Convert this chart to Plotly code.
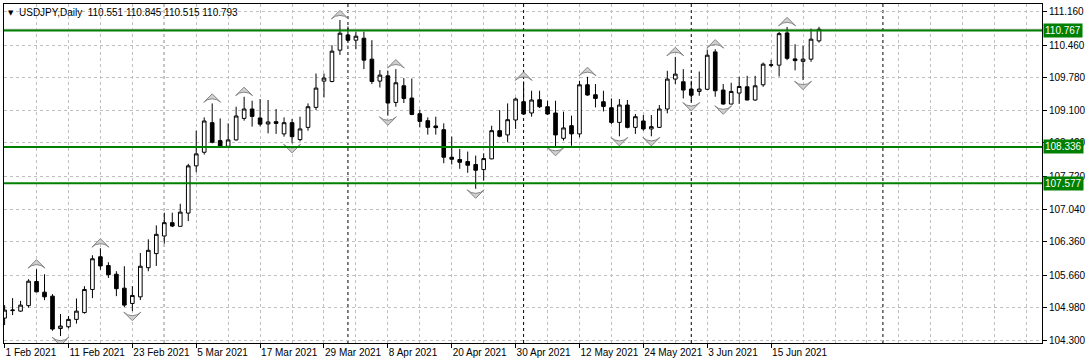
import plotly.graph_objects as go

# ---------------- data ----------------
tick_labels = ["1 Feb 2021", "11 Feb 2021", "23 Feb 2021", "5 Mar 2021", "17 Mar 2021",
               "29 Mar 2021", "8 Apr 2021", "20 Apr 2021", "30 Apr 2021", "12 May 2021",
               "24 May 2021", "3 Jun 2021", "15 Jun 2021"]

opens = [104.762, 104.918, 104.908, 105.022, 105.526, 105.304, 105.220, 104.544, 104.581, 104.735,
         104.877, 105.360, 106.043, 105.859, 105.678, 105.387, 105.068, 105.206, 105.814, 106.109,
         106.476, 106.755, 106.678, 106.955, 107.941, 108.225, 108.843, 108.468, 108.350, 108.483,
         108.932, 109.128, 108.941, 108.816, 108.864, 108.608, 108.843, 108.489, 108.745, 109.162,
         109.711, 109.703, 110.357, 110.675, 110.565, 110.606, 110.169, 109.711, 109.821, 109.266,
         109.613, 109.357, 109.030, 108.885, 108.774, 108.697, 108.121, 108.073, 108.031, 107.969,
         107.864, 108.087, 108.676, 108.587, 108.899, 109.280, 109.045, 109.322, 109.176, 109.045,
         108.516, 108.780, 108.608, 109.634, 109.426, 109.280, 109.155, 108.849, 109.211, 108.745,
         108.878, 108.712, 108.745, 109.128, 109.753, 109.697, 109.545, 109.495, 109.540, 110.321,
         109.524, 109.232, 109.461, 109.592, 109.316, 109.634, 110.040, 110.044, 110.717, 110.175,
         110.123, 110.169, 110.551]

highs = [105.033, 105.179, 105.122, 105.574, 105.782, 105.678, 105.262, 104.846, 104.804, 105.172,
         105.428, 106.074, 106.220, 105.928, 105.741, 105.845, 105.428, 106.122, 106.407, 106.698,
         106.963, 106.963, 107.150, 107.983, 108.676, 108.953, 109.245, 108.932, 108.828, 109.176,
         109.384, 109.301, 109.336, 109.316, 109.128, 108.953, 108.920, 108.968, 109.245, 109.869,
         109.869, 110.461, 110.987, 110.852, 110.744, 110.744, 110.565, 109.940, 109.926, 109.961,
         109.774, 109.765, 109.114, 108.953, 108.968, 108.828, 108.551, 108.295, 108.239, 108.156,
         108.204, 108.780, 109.107, 109.245, 109.370, 109.703, 109.509, 109.509, 109.301, 109.301,
         109.072, 108.989, 109.717, 109.801, 109.649, 109.509, 109.349, 109.336, 109.316, 109.024,
         109.003, 109.003, 109.211, 109.926, 110.217, 109.961, 109.717, 109.911, 110.369, 110.377,
         109.649, 109.676, 109.801, 109.821, 109.821, 110.098, 110.155, 110.738, 110.842, 110.481,
         110.446, 110.806, 110.845]

lows = [104.616, 104.825, 104.893, 104.981, 105.304, 105.137, 104.498, 104.387, 104.548, 104.648,
        104.856, 105.179, 105.772, 105.601, 105.220, 104.991, 104.908, 105.137, 105.741, 105.851,
        106.317, 106.663, 106.678, 106.788, 107.808, 108.177, 108.412, 108.329, 108.350, 108.468,
        108.885, 108.760, 108.766, 108.620, 108.608, 108.551, 108.412, 108.454, 108.676, 109.107,
        109.370, 109.686, 110.259, 110.540, 110.377, 109.961, 109.649, 109.578, 108.989, 109.176,
        109.253, 109.000, 108.745, 108.593, 108.593, 107.996, 107.969, 107.879, 107.796, 107.463,
        107.635, 108.080, 108.537, 108.433, 108.712, 109.010, 108.968, 109.149, 109.003, 108.350,
        108.468, 108.360, 108.537, 109.405, 109.162, 109.078, 108.816, 108.558, 108.724, 108.608,
        108.676, 108.558, 108.733, 109.037, 109.649, 109.349, 109.286, 109.405, 109.530, 109.384,
        109.218, 109.225, 109.235, 109.311, 109.301, 109.592, 109.998, 109.807, 110.148, 109.936,
        109.732, 110.113, 110.515]

closes = [104.929, 104.929, 105.033, 105.533, 105.310, 105.206, 104.533, 104.596, 104.735, 104.908,
          105.360, 106.001, 105.851, 105.668, 105.376, 105.033, 105.235, 105.845, 106.178, 106.511,
          106.755, 106.684, 106.975, 107.941, 108.191, 108.878, 108.433, 108.350, 108.483, 108.982,
          109.128, 108.974, 108.812, 108.858, 108.828, 108.843, 108.551, 108.712, 109.176, 109.565,
          109.774, 110.336, 110.711, 110.565, 110.648, 110.148, 109.703, 109.836, 109.253, 109.676,
          109.349, 109.016, 108.870, 108.745, 108.739, 108.121, 108.079, 108.016, 107.954, 107.850,
          108.093, 108.676, 108.558, 108.905, 109.336, 109.024, 109.316, 109.176, 109.024, 108.587,
          108.733, 108.608, 109.634, 109.420, 109.349, 109.182, 108.849, 109.211, 108.745, 108.968,
          108.712, 108.760, 109.128, 109.753, 109.857, 109.524, 109.416, 109.545, 110.252, 109.509,
          109.232, 109.495, 109.599, 109.316, 109.613, 110.065, 110.051, 110.702, 110.186, 110.138,
          110.169, 110.586, 110.793]

fractal_up = [4, 12, 26, 30, 42, 49, 65, 73, 84, 89, 98]
fractal_down = [7, 16, 36, 48, 59, 69, 77, 81, 86, 90, 100]

level_lines = [110.767, 108.336, 107.577]
month_starts = [20, 43, 65, 86, 110]
y_ticks = [104.30, 104.98, 105.66, 106.36, 107.04, 107.72, 108.42, 109.10, 109.78, 110.46, 111.16]

# ---------------- figure ----------------
n = len(opens)
xs = list(range(n))
FONT = "Tahoma, 'Liberation Sans', Arial, sans-serif"
GRID = "#c0c0c0"
GREEN = "#008000"

fig = go.Figure()

fig.add_trace(go.Candlestick(
    x=xs, open=opens, high=highs, low=lows, close=closes,
    increasing=dict(fillcolor="white", line=dict(color="black", width=1)),
    decreasing=dict(fillcolor="black", line=dict(color="black", width=1)),
    whiskerwidth=0, showlegend=False, hoverinfo="skip",
))

off = 0.2
arrow_marker = dict(symbol="arrow-wide", size=12, color="#cfcfcf", line=dict(color="#858585", width=1))
fig.add_trace(go.Scatter(
    x=fractal_up, y=[highs[i] + off for i in fractal_up], mode="markers",
    marker=arrow_marker, showlegend=False, hoverinfo="skip"))
fig.add_trace(go.Scatter(
    x=fractal_down, y=[lows[i] - off for i in fractal_down], mode="markers",
    marker=dict(arrow_marker, angle=180), showlegend=False, hoverinfo="skip"))

shapes = []
# bid line
shapes.append(dict(type="line", xref="paper", x0=0, x1=1, yref="y", y0=closes[-1], y1=closes[-1],
                   line=dict(color="#b0b0b0", width=1), layer="below"))
for m in month_starts:
    shapes.append(dict(type="line", xref="x", x0=m, x1=m, yref="paper", y0=0, y1=1,
                       line=dict(color="black", width=1, dash="3px,3px"), layer="below"))
for lv in level_lines:
    shapes.append(dict(type="line", xref="paper", x0=0, x1=1, yref="y", y0=lv, y1=lv,
                       line=dict(color=GREEN, width=2), layer="above"))

annotations = []
for lv in level_lines:
    annotations.append(dict(xref="paper", x=1, xanchor="left", xshift=1, yref="y", y=lv,
                            yanchor="middle", text=f"{lv:.3f}", showarrow=False,
                            bgcolor=GREEN, borderpad=1,
                            font=dict(family=FONT, size=10, color="white")))
annotations.append(dict(xref="paper", x=0.0, xanchor="left", xshift=2, yref="paper", y=1,
                        yanchor="top", yshift=-3, text="▼", showarrow=False,
                        font=dict(family="DejaVu Sans", size=7, color="black")))
annotations.append(dict(xref="paper", x=0.0, xanchor="left", xshift=13, yref="paper", y=1,
                        yanchor="top", yshift=-1,
                        text="USDJPY,Daily  110.551 110.845 110.515 110.793", showarrow=False,
                        font=dict(family=FONT, size=10, color="black")))

fig.update_layout(
    width=1089, height=364,
    margin=dict(l=3, r=46, t=3, b=21),
    paper_bgcolor="white", plot_bgcolor="white",
    shapes=shapes, annotations=annotations,
    boxgap=0.35,
    xaxis=dict(
        range=[-0.075, 129.925], rangeslider=dict(visible=False),
        tickmode="array", tickvals=list(range(0, 8 * len(tick_labels), 8)), ticktext=tick_labels,
        tickangle=0,
        ticks="outside", ticklen=4, tickcolor="black", ticklabelposition="outside right",
        tickfont=dict(family=FONT, size=10, color="black"),
        showgrid=True, gridcolor=GRID, griddash="3px,3px", gridwidth=1,
        minor=dict(tickmode="array", tickvals=list(range(0, 132, 4)), showgrid=True,
                   gridcolor=GRID, griddash="3px,3px", ticklen=0),
        showline=True, linecolor="black", linewidth=1, mirror=True, zeroline=False,
        fixedrange=True,
    ),
    yaxis=dict(
        side="right", range=[104.242, 111.321],
        tickmode="array", tickvals=y_ticks, ticktext=[f"{v:.3f}" for v in y_ticks],
        ticks="outside", ticklen=4, tickcolor="black",
        tickfont=dict(family=FONT, size=10, color="black"),
        showgrid=True, gridcolor=GRID, griddash="3px,3px", gridwidth=1,
        showline=True, linecolor="black", linewidth=1, mirror=True, zeroline=False,
    ),
)

fig.write_html("out.html")
